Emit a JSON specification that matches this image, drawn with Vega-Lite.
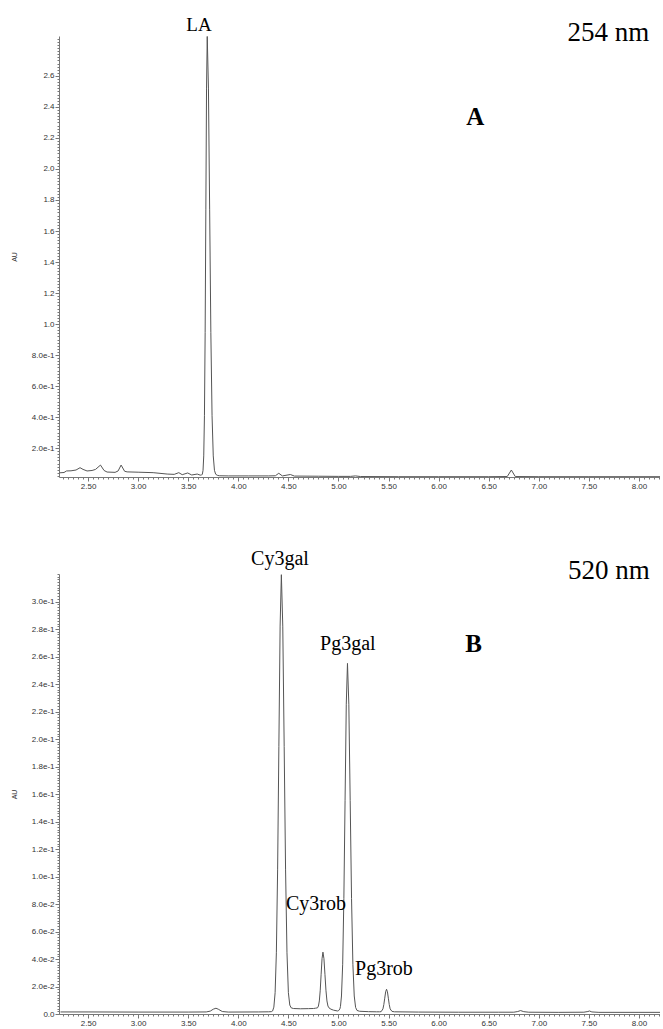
{
  "$schema": "https://vega.github.io/schema/vega-lite/v6.json",
  "background": "white",
  "padding": {"left": 10, "top": 15, "right": 0, "bottom": 0},
  "spacing": 58,
  "config": {
    "view": {"stroke": null},
    "axis": {"labelFont": "Liberation Sans", "titleFont": "Liberation Sans", "labelFontSize": 8, "labelColor": "#333", "domainColor": "#777", "tickColor": "#777", "grid": false}
  },
  "datasets": {
    "a": [
      {"t": 2.215, "au": 0.040}, {"t": 2.26, "au": 0.042}, {"t": 2.285, "au": 0.052}, {"t": 2.33, "au": 0.053},
      {"t": 2.38, "au": 0.058}, {"t": 2.42, "au": 0.073}, {"t": 2.45, "au": 0.062}, {"t": 2.49, "au": 0.052},
      {"t": 2.54, "au": 0.055}, {"t": 2.575, "au": 0.062}, {"t": 2.624, "au": 0.090}, {"t": 2.66, "au": 0.055},
      {"t": 2.69, "au": 0.045}, {"t": 2.77, "au": 0.043}, {"t": 2.80, "au": 0.052}, {"t": 2.83, "au": 0.090},
      {"t": 2.865, "au": 0.050}, {"t": 2.89, "au": 0.046}, {"t": 3.00, "au": 0.044}, {"t": 3.15, "au": 0.041},
      {"t": 3.29, "au": 0.032}, {"t": 3.36, "au": 0.030}, {"t": 3.406, "au": 0.041}, {"t": 3.44, "au": 0.028},
      {"t": 3.495, "au": 0.039}, {"t": 3.535, "au": 0.026}, {"t": 3.59, "au": 0.032}, {"t": 3.62, "au": 0.025},
      {"t": 3.634, "au": 0.026}, {"t": 3.641, "au": 0.031}, {"t": 3.648, "au": 0.056}, {"t": 3.655, "au": 0.149},
      {"t": 3.662, "au": 0.408}, {"t": 3.669, "au": 0.944}, {"t": 3.676, "au": 1.741}, {"t": 3.683, "au": 2.522},
      {"t": 3.69, "au": 2.855}, {"t": 3.702, "au": 2.522}, {"t": 3.714, "au": 1.741}, {"t": 3.726, "au": 0.944},
      {"t": 3.738, "au": 0.408}, {"t": 3.75, "au": 0.149}, {"t": 3.762, "au": 0.056}, {"t": 3.774, "au": 0.031},
      {"t": 3.79, "au": 0.024}, {"t": 3.81, "au": 0.021}, {"t": 3.90, "au": 0.020}, {"t": 4.10, "au": 0.020},
      {"t": 4.30, "au": 0.020}, {"t": 4.37, "au": 0.021}, {"t": 4.404, "au": 0.037}, {"t": 4.44, "au": 0.020},
      {"t": 4.52, "au": 0.029}, {"t": 4.56, "au": 0.019}, {"t": 4.8, "au": 0.018}, {"t": 5.0, "au": 0.017},
      {"t": 5.12, "au": 0.017}, {"t": 5.17, "au": 0.020}, {"t": 5.22, "au": 0.016}, {"t": 5.6, "au": 0.015},
      {"t": 6.0, "au": 0.015}, {"t": 6.5, "au": 0.015}, {"t": 6.685, "au": 0.016}, {"t": 6.726, "au": 0.058},
      {"t": 6.765, "au": 0.016}, {"t": 7.0, "au": 0.015}, {"t": 7.5, "au": 0.015}, {"t": 8.0, "au": 0.015},
      {"t": 8.21, "au": 0.015}
    ],
    "b": [
      {"t": 2.225, "au": 0.0015}, {"t": 2.5, "au": 0.0015}, {"t": 3.0, "au": 0.0014}, {"t": 3.5, "au": 0.0014},
      {"t": 3.68, "au": 0.0015}, {"t": 3.72, "au": 0.0021}, {"t": 3.75, "au": 0.0035}, {"t": 3.777, "au": 0.0042},
      {"t": 3.80, "au": 0.0035}, {"t": 3.84, "au": 0.0018}, {"t": 3.9, "au": 0.0014}, {"t": 4.2, "au": 0.0015},
      {"t": 4.30, "au": 0.0016}, {"t": 4.33, "au": 0.0017}, {"t": 4.3425, "au": 0.0022}, {"t": 4.355, "au": 0.005},
      {"t": 4.3675, "au": 0.0155}, {"t": 4.38, "au": 0.0445}, {"t": 4.3925, "au": 0.1048}, {"t": 4.405, "au": 0.1944},
      {"t": 4.4175, "au": 0.2821}, {"t": 4.43, "au": 0.3195}, {"t": 4.444, "au": 0.2821}, {"t": 4.458, "au": 0.1944},
      {"t": 4.472, "au": 0.1048}, {"t": 4.486, "au": 0.0445}, {"t": 4.50, "au": 0.0155}, {"t": 4.514, "au": 0.0065},
      {"t": 4.528, "au": 0.0045}, {"t": 4.55, "au": 0.0040}, {"t": 4.62, "au": 0.0038}, {"t": 4.70, "au": 0.0039},
      {"t": 4.75, "au": 0.0040}, {"t": 4.77, "au": 0.0042}, {"t": 4.791, "au": 0.0045}, {"t": 4.80, "au": 0.0058},
      {"t": 4.809, "au": 0.0095}, {"t": 4.818, "au": 0.0173}, {"t": 4.827, "au": 0.0289}, {"t": 4.836, "au": 0.0402},
      {"t": 4.845, "au": 0.045}, {"t": 4.855, "au": 0.0402}, {"t": 4.865, "au": 0.0289}, {"t": 4.875, "au": 0.0173},
      {"t": 4.885, "au": 0.0095}, {"t": 4.895, "au": 0.0058}, {"t": 4.905, "au": 0.0045}, {"t": 4.925, "au": 0.0035},
      {"t": 4.95, "au": 0.0028}, {"t": 4.99, "au": 0.0022}, {"t": 5.002, "au": 0.0025}, {"t": 5.014, "au": 0.0037},
      {"t": 5.02, "au": 0.0055}, {"t": 5.03, "au": 0.0131}, {"t": 5.042, "au": 0.0362}, {"t": 5.054, "au": 0.0841},
      {"t": 5.066, "au": 0.1554}, {"t": 5.078, "au": 0.2253}, {"t": 5.09, "au": 0.255}, {"t": 5.1035, "au": 0.2253},
      {"t": 5.117, "au": 0.1554}, {"t": 5.1305, "au": 0.0841}, {"t": 5.144, "au": 0.0362}, {"t": 5.1575, "au": 0.0131},
      {"t": 5.171, "au": 0.0048}, {"t": 5.185, "au": 0.0026}, {"t": 5.21, "au": 0.0020}, {"t": 5.30, "au": 0.0017},
      {"t": 5.38, "au": 0.0016}, {"t": 5.41, "au": 0.0016}, {"t": 5.426, "au": 0.0017}, {"t": 5.444, "au": 0.0037},
      {"t": 5.453, "au": 0.0069}, {"t": 5.462, "au": 0.0115}, {"t": 5.471, "au": 0.0161}, {"t": 5.48, "au": 0.018},
      {"t": 5.489, "au": 0.0161}, {"t": 5.498, "au": 0.0115}, {"t": 5.507, "au": 0.0069}, {"t": 5.516, "au": 0.0037},
      {"t": 5.534, "au": 0.0019}, {"t": 5.56, "au": 0.0016}, {"t": 5.8, "au": 0.0014}, {"t": 6.2, "au": 0.0013},
      {"t": 6.6, "au": 0.0013}, {"t": 6.75, "au": 0.0013}, {"t": 6.79, "au": 0.0018}, {"t": 6.818, "au": 0.0025},
      {"t": 6.85, "au": 0.0017}, {"t": 6.9, "au": 0.0013}, {"t": 7.2, "au": 0.0012}, {"t": 7.45, "au": 0.0013},
      {"t": 7.49, "au": 0.0018}, {"t": 7.506, "au": 0.0022}, {"t": 7.53, "au": 0.0015}, {"t": 7.6, "au": 0.0012},
      {"t": 8.0, "au": 0.0012}, {"t": 8.21, "au": 0.0012}
    ],
    "a_peaks": [{"t": 3.607, "au": 2.929, "label": "LA"}],
    "a_wave": [{"t": 7.694, "au": 2.877, "label": "254 nm"}],
    "a_letter": [{"t": 6.367, "au": 2.335, "label": "A"}],
    "b_peaks": [
      {"t": 4.416, "au": 0.331, "label": "Cy3gal"},
      {"t": 5.094, "au": 0.269, "label": "Pg3gal"},
      {"t": 4.775, "au": 0.080, "label": "Cy3rob"},
      {"t": 5.454, "au": 0.0327, "label": "Pg3rob"}
    ],
    "b_wave": [{"t": 7.70, "au": 0.322, "label": "520 nm"}],
    "b_letter": [{"t": 6.35, "au": 0.269, "label": "B"}]
  },
  "vconcat": [
    {
      "width": 601,
      "height": 441,
      "layer": [
        {
          "data": {"name": "a"},
          "mark": {"type": "line", "color": "#555", "strokeWidth": 1, "clip": true},
          "encoding": {
            "x": {"field": "t", "type": "quantitative", "scale": {"domain": [2.21, 8.21], "nice": false, "zero": false},
                  "axis": {"title": null, "values": [2.5, 3, 3.5, 4, 4.5, 5, 5.5, 6, 6.5, 7, 7.5, 8], "format": ".2f", "tickSize": 4, "labelPadding": 1}},
            "y": {"field": "au", "type": "quantitative", "scale": {"domain": [0.013, 2.858], "nice": false, "zero": false},
                  "axis": {"title": "AU", "values": [0.2, 0.4, 0.6, 0.8, 1.0, 1.2, 1.4, 1.6, 1.8, 2.0, 2.2, 2.4, 2.6],
                           "labelExpr": "datum.value >= 1 ? format(datum.value, '.1f') : format(datum.value, '.1e')",
                           "tickSize": 4, "labelPadding": 1, "titleFontSize": 7, "titleFontWeight": "normal", "titleColor": "#333", "titlePadding": 14}}
          }
        },
        {
          "data": {"name": "a"},
          "mark": {"type": "line", "opacity": 0},
          "encoding": {
            "x": {"field": "t", "type": "quantitative", "scale": {"domain": [2.21, 8.21], "nice": false, "zero": false},
                  "axis": {"title": null, "labels": false, "domain": false, "tickCount": 120, "tickSize": 2, "orient": "bottom"}},
            "y": {"field": "au", "type": "quantitative", "scale": {"domain": [0.013, 2.858], "nice": false, "zero": false},
                  "axis": {"title": null, "labels": false, "domain": false, "tickCount": 142, "tickSize": 2, "orient": "left"}}
          }
        },
        {
          "data": {"name": "a_peaks"},
          "mark": {"type": "text", "font": "Liberation Serif", "fontSize": 19, "color": "black", "align": "center", "baseline": "middle"},
          "encoding": {"x": {"field": "t", "type": "quantitative", "axis": null}, "y": {"field": "au", "type": "quantitative", "axis": null}, "text": {"field": "label"}}
        },
        {
          "data": {"name": "a_wave"},
          "mark": {"type": "text", "font": "Liberation Serif", "fontSize": 27, "color": "black", "align": "center", "baseline": "middle"},
          "encoding": {"x": {"field": "t", "type": "quantitative", "axis": null}, "y": {"field": "au", "type": "quantitative", "axis": null}, "text": {"field": "label"}}
        },
        {
          "data": {"name": "a_letter"},
          "mark": {"type": "text", "font": "Liberation Serif", "fontSize": 25, "fontWeight": "bold", "color": "black", "align": "center", "baseline": "middle"},
          "encoding": {"x": {"field": "t", "type": "quantitative", "axis": null}, "y": {"field": "au", "type": "quantitative", "axis": null}, "text": {"field": "label"}}
        }
      ],
      "resolve": {"axis": {"x": "independent", "y": "independent"}}
    },
    {
      "width": 601,
      "height": 440,
      "layer": [
        {
          "data": {"name": "b"},
          "mark": {"type": "line", "color": "#555", "strokeWidth": 1, "clip": true},
          "encoding": {
            "x": {"field": "t", "type": "quantitative", "scale": {"domain": [2.21, 8.21], "nice": false, "zero": false},
                  "axis": {"title": null, "values": [2.5, 3, 3.5, 4, 4.5, 5, 5.5, 6, 6.5, 7, 7.5, 8], "format": ".2f", "tickSize": 4, "labelPadding": 1}},
            "y": {"field": "au", "type": "quantitative", "scale": {"domain": [0, 0.32], "nice": false, "zero": false},
                  "axis": {"title": "AU", "values": [0, 0.02, 0.04, 0.06, 0.08, 0.10, 0.12, 0.14, 0.16, 0.18, 0.20, 0.22, 0.24, 0.26, 0.28, 0.30],
                           "labelExpr": "datum.value == 0 ? '0.0' : format(datum.value, '.1e')",
                           "tickSize": 4, "labelPadding": 1, "titleFontSize": 7, "titleFontWeight": "normal", "titleColor": "#333", "titlePadding": 14}}
          }
        },
        {
          "data": {"name": "b"},
          "mark": {"type": "line", "opacity": 0},
          "encoding": {
            "x": {"field": "t", "type": "quantitative", "scale": {"domain": [2.21, 8.21], "nice": false, "zero": false},
                  "axis": {"title": null, "labels": false, "domain": false, "tickCount": 120, "tickSize": 2, "orient": "bottom"}},
            "y": {"field": "au", "type": "quantitative", "scale": {"domain": [0, 0.32], "nice": false, "zero": false},
                  "axis": {"title": null, "labels": false, "domain": false, "tickCount": 160, "tickSize": 2, "orient": "left"}}
          }
        },
        {
          "data": {"name": "b_peaks"},
          "mark": {"type": "text", "font": "Liberation Serif", "fontSize": 20, "color": "black", "align": "center", "baseline": "middle"},
          "encoding": {"x": {"field": "t", "type": "quantitative", "axis": null}, "y": {"field": "au", "type": "quantitative", "axis": null}, "text": {"field": "label"}}
        },
        {
          "data": {"name": "b_wave"},
          "mark": {"type": "text", "font": "Liberation Serif", "fontSize": 27, "color": "black", "align": "center", "baseline": "middle"},
          "encoding": {"x": {"field": "t", "type": "quantitative", "axis": null}, "y": {"field": "au", "type": "quantitative", "axis": null}, "text": {"field": "label"}}
        },
        {
          "data": {"name": "b_letter"},
          "mark": {"type": "text", "font": "Liberation Serif", "fontSize": 25, "fontWeight": "bold", "color": "black", "align": "center", "baseline": "middle"},
          "encoding": {"x": {"field": "t", "type": "quantitative", "axis": null}, "y": {"field": "au", "type": "quantitative", "axis": null}, "text": {"field": "label"}}
        }
      ],
      "resolve": {"axis": {"x": "independent", "y": "independent"}}
    }
  ]
}
